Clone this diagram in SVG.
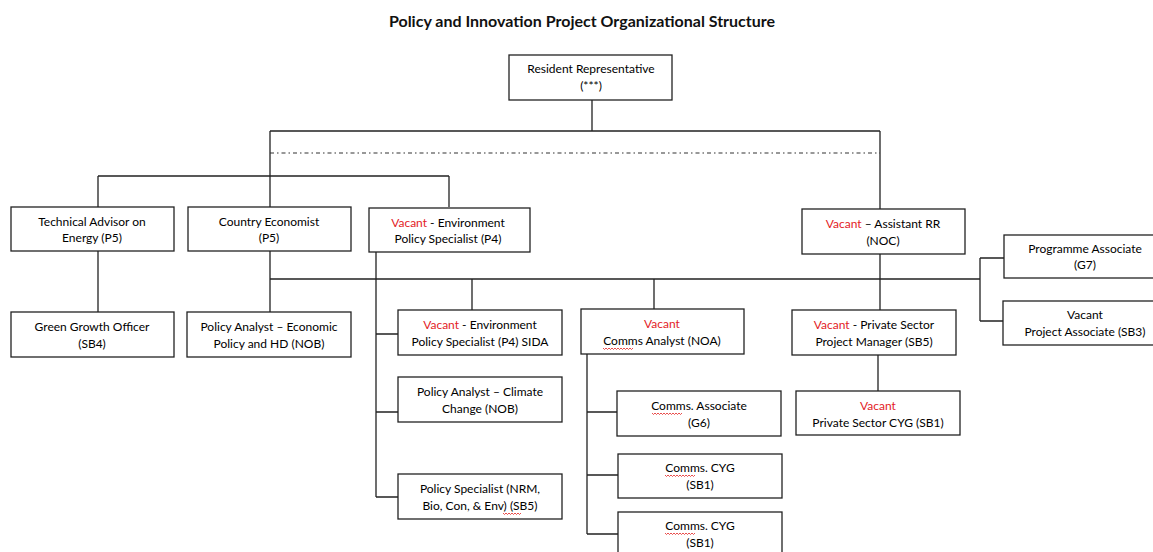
<svg xmlns="http://www.w3.org/2000/svg" width="1153" height="552" viewBox="0 0 1153 552">
  <style>
    .box { fill: #ffffff; stroke: #222222; stroke-width: 1.3; }
    .lbl { font-family: Lato, "Open Sans", "Liberation Sans", sans-serif; font-size: 12px; fill: #000000; text-anchor: middle; }
    .red { fill: #e3211f; }
    .ln { fill: none; stroke: #222222; stroke-width: 1.3; }
    .dd { fill: none; stroke: #333333; stroke-width: 1.2; stroke-dasharray: 4 3 1.5 3; }
    .sq { fill: none; stroke: #e3211f; stroke-width: 0.8; }
    .title { font-family: Lato, "Open Sans", "Liberation Sans", sans-serif; font-size: 16px; font-weight: bold; fill: #111111; text-anchor: middle; }
  </style>
  <rect width="1153" height="552" fill="#ffffff"/>

  <text class="title" x="582" y="27">Policy and Innovation Project Organizational Structure</text>

  <!-- connectors -->
  <g id="connectors">
    <path class="ln" d="M592 100 V131 M270 131 H880 M270 131 V207 M880 131 V209"/>
    <path class="dd" d="M270 153 H880"/>
    <path class="ln" d="M98 176 H449 M98 176 V207 M449 176 V207"/>
    <path class="ln" d="M98 251 V312 M270 251 V312"/>
    <path class="ln" d="M270 279 H980 M980 258 V321 M980 258 H1004 M980 321 H1004"/>
    <path class="ln" d="M376 252 V497 M376 334 H398 M376 412 H398 M376 497 H398"/>
    <path class="ln" d="M472 279 V310 M654 279 V309"/>
    <path class="ln" d="M587 354 V534 M587 412 H617 M587 475 H618 M587 534 H618"/>
    <path class="ln" d="M880 254 V310 M878 355 V391"/>
  </g>

  <g id="resident-rep">
    <rect class="box" x="509" y="55" width="163" height="45"/>
    <text class="lbl" x="591" y="73">Resident Representative</text>
    <text class="lbl" x="591" y="90">(***)</text>
  </g>

  <g id="tech-advisor">
    <rect class="box" x="11" y="207" width="163" height="44"/>
    <text class="lbl" x="92" y="226">Technical Advisor on</text>
    <text class="lbl" x="92" y="242">Energy (P5)</text>
  </g>

  <g id="country-economist">
    <rect class="box" x="188" y="207" width="163" height="44"/>
    <text class="lbl" x="269" y="226">Country Economist</text>
    <text class="lbl" x="269" y="242">(P5)</text>
  </g>

  <g id="env-policy-specialist">
    <rect class="box" x="369" y="208" width="161" height="44"/>
    <text class="lbl" x="448" y="227"><tspan class="red">Vacant</tspan> - Environment</text>
    <text class="lbl" x="448" y="243">Policy Specialist (P4)</text>
  </g>

  <g id="assistant-rr">
    <rect class="box" x="802" y="209" width="163" height="45"/>
    <text class="lbl" x="883" y="228"><tspan class="red">Vacant</tspan> – Assistant RR</text>
    <text class="lbl" x="883" y="245">(NOC)</text>
  </g>

  <g id="programme-associate">
    <rect class="box" x="1004" y="235" width="160" height="43"/>
    <text class="lbl" x="1085" y="253">Programme Associate</text>
    <text class="lbl" x="1085" y="269">(G7)</text>
  </g>

  <g id="project-associate">
    <rect class="box" x="1003" y="301" width="160" height="44"/>
    <text class="lbl" x="1085" y="319">Vacant</text>
    <text class="lbl" x="1085" y="336">Project Associate (SB3)</text>
  </g>

  <g id="green-growth-officer">
    <rect class="box" x="11" y="312" width="163" height="45"/>
    <text class="lbl" x="92" y="331">Green Growth Officer</text>
    <text class="lbl" x="92" y="348">(SB4)</text>
  </g>

  <g id="policy-analyst-economic">
    <rect class="box" x="187" y="312" width="164" height="45"/>
    <text class="lbl" x="269" y="331">Policy Analyst – Economic</text>
    <text class="lbl" x="269" y="348">Policy and HD (NOB)</text>
  </g>

  <g id="env-policy-specialist-sida">
    <rect class="box" x="398" y="310" width="164" height="45"/>
    <text class="lbl" x="480" y="329"><tspan class="red">Vacant</tspan> - Environment</text>
    <text class="lbl" x="480" y="346">Policy Specialist (P4) SIDA</text>
  </g>

  <g id="comms-analyst">
    <rect class="box" x="581" y="309" width="163" height="45"/>
    <text class="lbl red" x="662" y="328">Vacant</text>
    <text class="lbl" x="662" y="345">Comms Analyst (NOA)</text>
    <path class="sq" d="M603 348 l1.5 1.5 l1.5 -1.5 l1.5 1.5 l1.5 -1.5 l1.5 1.5 l1.5 -1.5 l1.5 1.5 l1.5 -1.5 l1.5 1.5 l1.5 -1.5 l1.5 1.5 l1.5 -1.5 l1.5 1.5 l1.5 -1.5 l1.5 1.5 l1.5 -1.5 l1.5 1.5 l1.5 -1.5 l1.5 1.5 l1.5 -1.5"/>
  </g>

  <g id="private-sector-pm">
    <rect class="box" x="792" y="310" width="164" height="45"/>
    <text class="lbl" x="874" y="329"><tspan class="red">Vacant</tspan> - Private Sector</text>
    <text class="lbl" x="874" y="346">Project Manager (SB5)</text>
  </g>

  <g id="policy-analyst-climate">
    <rect class="box" x="398" y="377" width="164" height="45"/>
    <text class="lbl" x="480" y="396">Policy Analyst – Climate</text>
    <text class="lbl" x="480" y="413">Change (NOB)</text>
  </g>

  <g id="comms-associate">
    <rect class="box" x="617" y="391" width="164" height="45"/>
    <text class="lbl" x="699" y="410">Comms. Associate</text>
    <text class="lbl" x="699" y="427">(G6)</text>
    <path class="sq" d="M652 413 l1.5 1.5 l1.5 -1.5 l1.5 1.5 l1.5 -1.5 l1.5 1.5 l1.5 -1.5 l1.5 1.5 l1.5 -1.5 l1.5 1.5 l1.5 -1.5 l1.5 1.5 l1.5 -1.5 l1.5 1.5 l1.5 -1.5 l1.5 1.5 l1.5 -1.5 l1.5 1.5 l1.5 -1.5 l1.5 1.5 l1.5 -1.5"/>
  </g>

  <g id="private-sector-cyg">
    <rect class="box" x="796" y="391" width="164" height="44"/>
    <text class="lbl red" x="878" y="410">Vacant</text>
    <text class="lbl" x="878" y="427">Private Sector CYG (SB1)</text>
  </g>

  <g id="comms-cyg-1">
    <rect class="box" x="618" y="454" width="164" height="44"/>
    <text class="lbl" x="700" y="472">Comms. CYG</text>
    <text class="lbl" x="700" y="489">(SB1)</text>
    <path class="sq" d="M665 475 l1.5 1.5 l1.5 -1.5 l1.5 1.5 l1.5 -1.5 l1.5 1.5 l1.5 -1.5 l1.5 1.5 l1.5 -1.5 l1.5 1.5 l1.5 -1.5 l1.5 1.5 l1.5 -1.5 l1.5 1.5 l1.5 -1.5 l1.5 1.5 l1.5 -1.5 l1.5 1.5 l1.5 -1.5 l1.5 1.5 l1.5 -1.5"/>
  </g>

  <g id="policy-specialist-nrm">
    <rect class="box" x="398" y="474" width="164" height="45"/>
    <text class="lbl" x="480" y="493">Policy Specialist (NRM,</text>
    <text class="lbl" x="480" y="510">Bio, Con, &amp; Env) (SB5)</text>
    <path class="sq" d="M503 513 l1.5 1.5 l1.5 -1.5 l1.5 1.5 l1.5 -1.5 l1.5 1.5 l1.5 -1.5 l1.5 1.5 l1.5 -1.5 l1.5 1.5 l1.5 -1.5 l1.5 1.5 l1.5 -1.5"/>
  </g>

  <g id="comms-cyg-2">
    <rect class="box" x="618" y="512" width="164" height="50"/>
    <text class="lbl" x="700" y="530">Comms. CYG</text>
    <text class="lbl" x="700" y="547">(SB1)</text>
    <path class="sq" d="M665 533 l1.5 1.5 l1.5 -1.5 l1.5 1.5 l1.5 -1.5 l1.5 1.5 l1.5 -1.5 l1.5 1.5 l1.5 -1.5 l1.5 1.5 l1.5 -1.5 l1.5 1.5 l1.5 -1.5 l1.5 1.5 l1.5 -1.5 l1.5 1.5 l1.5 -1.5 l1.5 1.5 l1.5 -1.5 l1.5 1.5 l1.5 -1.5"/>
  </g>
</svg>
